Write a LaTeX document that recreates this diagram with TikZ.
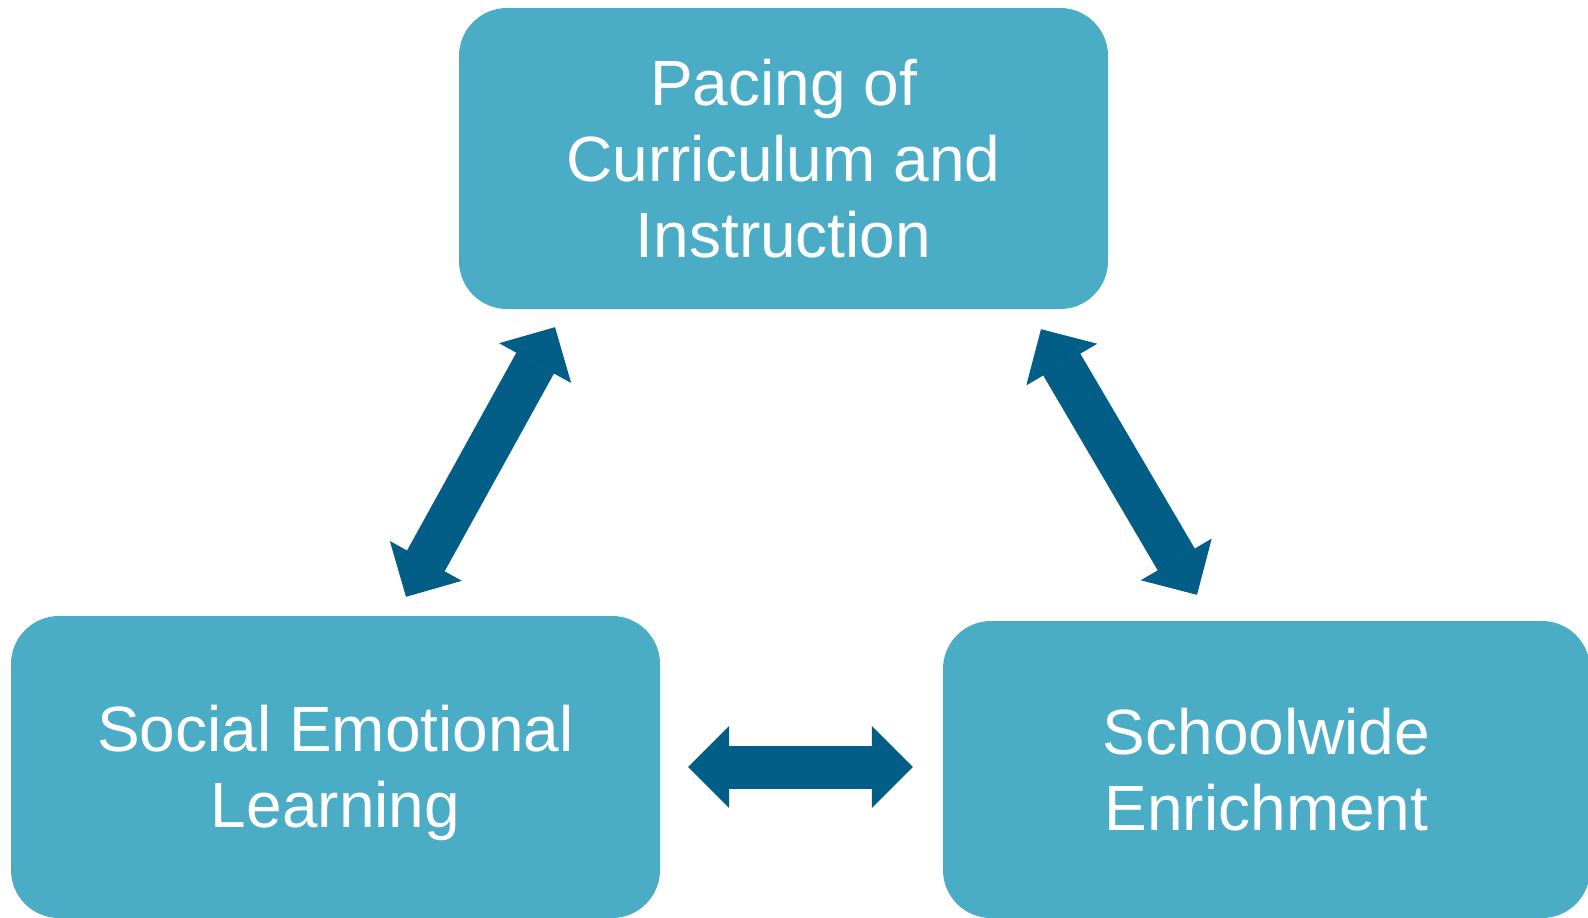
\documentclass[tikz,border=0pt]{standalone}
\usepackage{fontspec}
\setmainfont{Liberation Sans}
\usetikzlibrary{arrows.meta}

\definecolor{boxblue}{HTML}{4BACC6}
\definecolor{arrowblue}{RGB}{2,94,134}

\begin{document}
\begin{tikzpicture}[x=1pt,y=1pt,
boxtext/.style={text=white,align=center,inner sep=0pt,font=\fontsize{64}{76}\selectfont},
box/.style={boxtext,fill=boxblue,rounded corners=48pt},
link/.style={draw=arrowblue,line width=43pt,
  >={Triangle[width=82pt,length=41pt,line width=1pt]},<->}]
\useasboundingbox (0,0) rectangle (1588,-918);
\node[box,minimum width=649pt,minimum height=301pt] (pace) at (783.5,-158.5)
  {Pacing of\\Curriculum and\\Instruction};
\node[box,minimum width=649pt,minimum height=302pt,
  label={[boxtext,yshift=-6pt]center:Social Emotional\\Learning}] (sel) at (335.5,-767) {};
\node[box,minimum width=647pt,minimum height=297pt] (sch) at (1266.5,-769.5)
  {Schoolwide\\Enrichment};
\draw[link] ([xshift=70.5pt,yshift=19pt]sel.north) -- ([xshift=-228.5pt,yshift=-18pt]pace.south);
\draw[link] ([xshift=257.5pt,yshift=-20pt]pace.south) -- ([xshift=-69.5pt,yshift=26pt]sch.north);
\draw[link,shorten <=28pt,shorten >=30pt] (sel.east) -- (sel.east -| sch.west);
%\draw[link] (sel) -- (sch);
\end{tikzpicture}
\end{document}
